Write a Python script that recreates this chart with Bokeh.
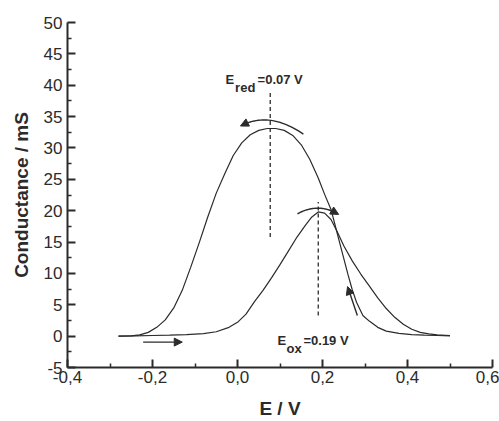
from bokeh.plotting import figure
from bokeh.models import (Range1d, FixedTicker, CustomJSTickFormatter, Label,
                          Arrow, NormalHead)
from bokeh.embed import file_html
from bokeh.resources import INLINE

# ---- data ----
ox_x = [-0.28, -0.24, -0.20, -0.16, -0.12, -0.08, -0.05, -0.02, 0.00, 0.02, 0.04,
        0.06, 0.08, 0.10, 0.12, 0.14, 0.16, 0.175, 0.19, 0.205, 0.22, 0.235,
        0.25, 0.27, 0.29, 0.31, 0.33, 0.35, 0.37, 0.39, 0.41, 0.43, 0.45, 0.47, 0.50]
ox_y = [0.0, 0.05, 0.1, 0.15, 0.25, 0.4, 0.7, 1.4, 2.2, 3.5, 5.5,
        7.3, 9.3, 11.4, 13.6, 15.8, 17.7, 19.0, 19.8, 19.6, 18.6, 16.6,
        14.4, 12.0, 9.9, 8.0, 6.1, 4.4, 3.0, 1.9, 1.1, 0.6, 0.35, 0.2, 0.1]

red_x = [0.50, 0.47, 0.44, 0.41, 0.38, 0.35, 0.33, 0.31, 0.295, 0.28, 0.27, 0.26,
         0.25, 0.24, 0.23, 0.22, 0.205, 0.19, 0.17, 0.15, 0.13, 0.11, 0.09, 0.07,
         0.05, 0.03, 0.01, -0.01, -0.03, -0.05, -0.07, -0.09, -0.11, -0.13, -0.15,
         -0.17, -0.19, -0.21, -0.23, -0.25, -0.28]
red_y = [0.05, 0.1, 0.15, 0.25, 0.45, 0.8, 1.4, 2.4, 3.3, 5.4, 7.4, 9.8,
         12.4, 15.0, 17.6, 20.2, 22.6, 25.2, 28.2, 30.5, 32.0, 32.8, 33.1, 33.1,
         32.8, 32.1, 30.8, 28.8, 25.9, 22.8, 19.0, 14.9, 11.0, 7.3, 4.5,
         2.6, 1.4, 0.6, 0.2, 0.05, 0.0]

x_ticks = [-0.4, -0.2, 0.0, 0.2, 0.4, 0.6]
x_minor = [-0.3, -0.1, 0.1, 0.3, 0.5]
y_ticks = [-5, 0, 5, 10, 15, 20, 25, 30, 35, 40, 45, 50]
y_minor = [-2.5, 2.5, 7.5, 12.5, 17.5, 22.5, 27.5, 32.5, 37.5, 42.5, 47.5]

E_red = 0.077          # dashed marker (label says 0.07 V)
E_red_span = [15.8, 38.8]
E_ox = 0.19
E_ox_span = [3.3, 21.4]

# arcs: tail, apex, head
arc_red = [(0.155, 32.2), (0.078, 34.4), (0.007, 33.5)]
arc_ox = [(0.141, 19.5), (0.19, 20.4), (0.238, 19.4)]
arrow_fwd = [(-0.222, -0.95), (-0.13, -0.95)]
arrow_back = [(0.282, 3.3), (0.259, 7.9)]

INK = "#2b2b2b"
FONT = "Liberation Sans"

p = figure(width=499, height=421, output_backend="svg", toolbar_location=None,
           x_range=Range1d(-0.4, 0.6), y_range=Range1d(-5, 50),
           min_border_left=67, min_border_right=7, min_border_top=22,
           min_border_bottom=52)
p.outline_line_color = None
p.grid.visible = False
p.background_fill_color = "white"

for ax in (p.xaxis[0], p.yaxis[0]):
    ax.axis_line_width = 2
    ax.axis_line_color = INK
    ax.major_tick_in = 8
    ax.major_tick_out = 0
    ax.minor_tick_in = 4
    ax.minor_tick_out = 0
    ax.major_tick_line_width = 2
    ax.minor_tick_line_width = 1.5
    ax.major_tick_line_color = INK
    ax.minor_tick_line_color = INK
    ax.major_label_text_font = FONT
    ax.major_label_text_font_size = "17px"
    ax.major_label_text_color = INK
    ax.axis_label_text_font = FONT
    ax.axis_label_text_font_style = "bold"
    ax.axis_label_text_font_size = "19px"
    ax.axis_label_text_color = INK

p.xaxis.ticker = FixedTicker(ticks=x_ticks, minor_ticks=x_minor)
p.yaxis.ticker = FixedTicker(ticks=y_ticks, minor_ticks=y_minor)
p.xaxis.formatter = CustomJSTickFormatter(code="return tick.toFixed(1).replace('.', ',');")
p.yaxis.formatter = CustomJSTickFormatter(code="return tick.toFixed(0);")
p.xaxis.axis_label = "E / V"
p.yaxis.axis_label = "Conductance / mS"
p.xaxis.major_label_standoff = 3
p.xaxis.axis_label_standoff = 12
p.yaxis.major_label_standoff = 5
p.yaxis.axis_label_standoff = 9

p.line(ox_x, ox_y, line_color=INK, line_width=1.2)
p.line(red_x, red_y, line_color=INK, line_width=1.2)

p.line([E_red, E_red], E_red_span, line_color=INK, line_width=1.3, line_dash="4 3")
p.line([E_ox, E_ox], E_ox_span, line_color=INK, line_width=1.3, line_dash="4 3")


def bezier(pts, n=30):
    (x0, y0), (xa, ya), (x2, y2) = pts
    cx = 2 * xa - (x0 + x2) / 2
    cy = 2 * ya - (y0 + y2) / 2
    xs, ys = [], []
    for i in range(n + 1):
        t = i / n
        xs.append((1 - t) ** 2 * x0 + 2 * (1 - t) * t * cx + t ** 2 * x2)
        ys.append((1 - t) ** 2 * y0 + 2 * (1 - t) * t * cy + t ** 2 * y2)
    return xs, ys


for arc in (arc_red, arc_ox):
    xs, ys = bezier(arc)
    p.line(xs[:-1], ys[:-1], line_color=INK, line_width=1.4)
    p.add_layout(Arrow(end=NormalHead(size=8, fill_color=INK, line_color=INK),
                       x_start=xs[-3], y_start=ys[-3], x_end=xs[-1], y_end=ys[-1],
                       line_color=INK, line_width=1.4))

for (a, b) in (arrow_fwd, arrow_back):
    p.add_layout(Arrow(end=NormalHead(size=8, fill_color=INK, line_color=INK),
                       x_start=a[0], y_start=a[1], x_end=b[0], y_end=b[1],
                       line_color=INK, line_width=1.4))


def sub_label(x, y, main, sub, rest, sub_dx, rest_dx):
    common = dict(x=x, y=y, text_font=FONT, text_font_style="bold",
                  text_color=INK, text_baseline="alphabetic", text_align="left")
    p.add_layout(Label(text=main, text_font_size="13px", **common))
    p.add_layout(Label(text=sub, text_font_size="13px", x_offset=sub_dx,
                       y_offset=-8, **common))
    p.add_layout(Label(text=rest, text_font_size="13px", x_offset=rest_dx, **common))


sub_label(-0.028, 40.9, "E", "red", "=0.07 V", 9.5, 32)
sub_label(0.094, -0.63, "E", "ox", "=0.19 V", 9, 26)

open("out.html", "w").write(file_html(p, INLINE))
